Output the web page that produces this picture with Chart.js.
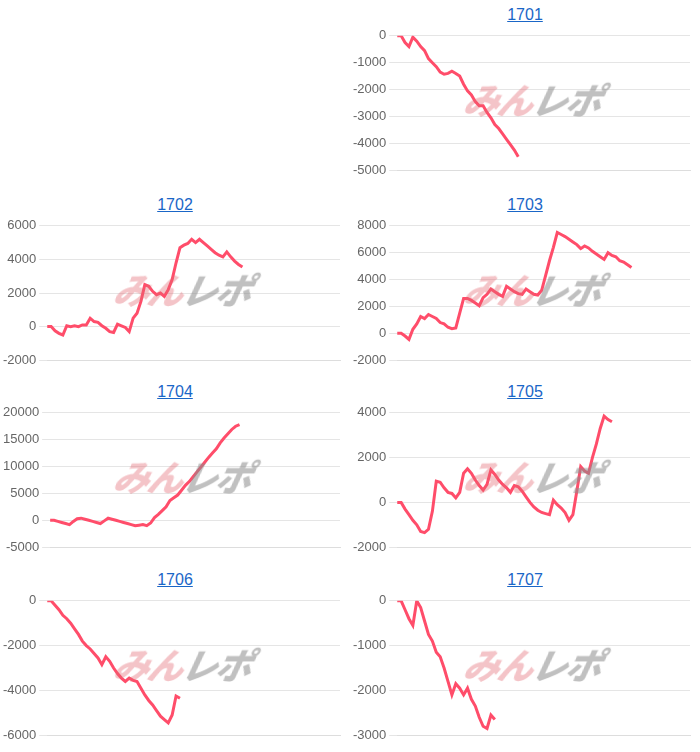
<!DOCTYPE html>
<html><head><meta charset="utf-8">
<script src="https://cdn.jsdelivr.net/npm/chart.js"></script>
<style>
body{margin:0;width:700px;height:752px;background:#fff;font-family:"Liberation Sans",Arial,sans-serif;position:relative;overflow:hidden}
.panel{position:absolute;width:350px;height:187px}
.title{position:absolute;top:6px;left:0;width:100%;text-align:center;font-size:16px}
.title a{color:#1a66c7;text-decoration:underline}
.cv{position:absolute;top:25px;left:0;width:350px;height:156px}
.wm{position:absolute;top:72px;left:115px;font-family:"Noto Sans CJK JP";font-weight:900;font-style:italic;font-size:36px;letter-spacing:-2px;pointer-events:none;transform:skewX(-12deg)}
.wm .a{color:rgba(225,100,110,0.38)}.wm .b{color:rgba(140,140,140,0.55)}
</style></head><body>
<script>
const titles=["1701","1702","1703","1704","1705","1706","1707"];
const s1701=[0,0,-250,-400,-50,-200,-400,-550,-850,-1000,-1150,-1350,-1430,-1400,-1320,-1400,-1500,-1800,-2050,-2200,-2450,-2600,-2600,-2850,-3050,-3300,-3450,-3650,-3850,-4050,-4250,-4500];
const s1702=[0,0,-250,-400,-500,50,0,50,0,100,100,500,300,250,50,-100,-300,-350,150,50,-50,-300,500,800,1500,2500,2400,2100,1900,2000,1800,2200,2800,3800,4700,4850,4950,5200,5000,5200,5000,4800,4600,4400,4250,4150,4450,4150,3900,3700,3550];
const s1703=[0,0,-200,-450,300,700,1250,1100,1400,1250,1100,800,700,450,350,400,1500,2600,2600,2450,2250,2050,2650,2900,3300,3100,2900,2750,3500,3300,3100,2950,2900,3300,3100,2900,2850,3200,4300,5400,6400,7500,7350,7200,7000,6800,6600,6300,6500,6350,6100,5900,5700,5500,6000,5800,5700,5400,5300,5100,4900];
const s1704=[0,0,-200,-400,-600,-800,-200,300,400,200,0,-200,-400,-600,-100,400,200,0,-200,-400,-600,-800,-1000,-900,-800,-1000,-500,500,1100,1800,2500,3700,4200,4700,5600,6500,7200,8100,9000,9900,10800,11700,12500,13300,14400,15300,16100,16900,17500,17800];
const s1705=[0,0,-300,-550,-800,-1000,-1300,-1350,-1200,-400,950,900,650,450,400,200,450,1300,1500,1300,1000,750,550,800,1450,1250,1000,800,650,450,750,700,500,250,0,-200,-350,-450,-500,-550,100,-100,-250,-450,-800,-550,500,1600,1400,1300,2000,2600,3300,3850,3700,3600];
const s1706=[0,0,-200,-400,-650,-800,-1000,-1250,-1500,-1800,-2000,-2150,-2350,-2550,-2850,-2500,-2700,-3000,-3250,-3450,-3600,-3450,-3550,-3600,-3900,-4200,-4450,-4650,-4900,-5150,-5300,-5450,-5100,-4250,-4350];
const s1707=[0,0,-200,-400,-550,0,-150,-450,-750,-900,-1150,-1250,-1500,-1800,-2100,-1850,-1950,-2100,-1950,-2200,-2350,-2600,-2800,-2850,-2550,-2650];
const series=[s1701,s1702,s1703,s1704,s1705,s1706,s1707];
const yMin=[-5000,-2000,-2000,-5000,-2000,-6000,-3000];
const yMax=[0,6000,8000,20000,4000,0,0];
const yStep=[1000,2000,2000,5000,2000,2000,1000];
const xLabels=Array.from({length:76},(_,i)=>String(i+1));
const pos=[[350,0],[0,190],[350,190],[0,377],[350,377],[0,565],[350,565]];
titles.forEach((t,i)=>{
  const p=document.createElement('div');p.className='panel';p.style.left=pos[i][0]+'px';p.style.top=pos[i][1]+'px';
  p.innerHTML='<div class="title"><a href="#">'+t+'</a></div><div class="cv"><canvas></canvas></div><div class="wm"><span class="a">みん</span><span class="b">レポ</span></div>';
  document.body.appendChild(p);
  new Chart(p.querySelector('canvas'),{type:'line',
    data:{labels:xLabels,datasets:[{data:series[i],borderColor:'rgb(255,77,106)',borderWidth:3,pointRadius:0,tension:0,fill:false}]},
    options:{responsive:true,maintainAspectRatio:false,animation:false,
      layout:{padding:{right:10,top:2}},
      plugins:{legend:{display:false},tooltip:{enabled:false}},
      scales:{x:{grid:{display:false},ticks:{display:false},border:{color:'#ddd'}},
        y:{min:yMin[i],max:yMax[i],ticks:{stepSize:yStep[i],color:'#666',font:{size:13,family:'Liberation Sans'},callback:v=>String(v)},grid:{color:'#e5e5e5'},border:{display:false}}}}});
});
</script></body></html>
